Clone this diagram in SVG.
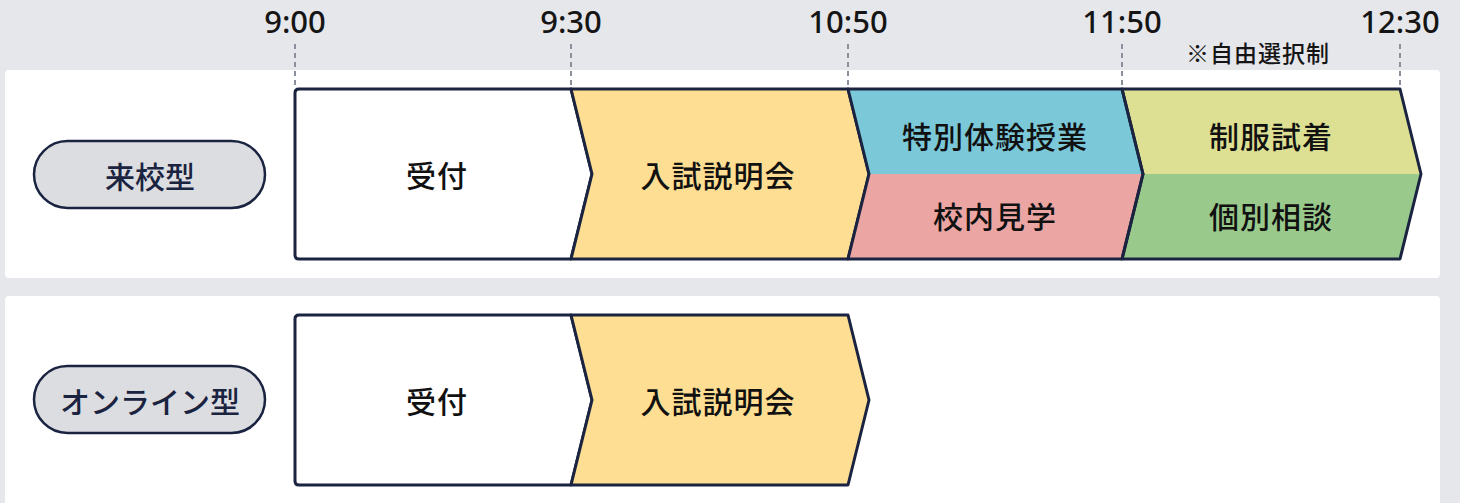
<svg xmlns="http://www.w3.org/2000/svg" width="1460" height="503" viewBox="0 0 1460 503">
<style>
.t{font-family:"Noto Sans","Noto Sans CJK JP",sans-serif;}
.time{font-size:31px;font-weight:500;fill:#151515;text-anchor:middle;}
.lbl{font-family:"Noto Sans CJK JP",sans-serif;font-size:30px;font-weight:500;fill:#111;text-anchor:middle;dominant-baseline:central;letter-spacing:1px;}
.pilltxt{font-family:"Noto Sans CJK JP",sans-serif;font-size:30px;font-weight:500;fill:#1a2340;text-anchor:middle;dominant-baseline:central;}
.pill{fill:#dcdde1;stroke:#1a2340;stroke-width:2.5;}
.blk{stroke:#1a2340;stroke-width:3;stroke-linejoin:round;}
.tick{stroke:#8a8f9c;stroke-width:2;stroke-dasharray:5 4;}
</style>
<rect x="0" y="0" width="1460" height="503" fill="#e6e7eb"/>
<rect x="5" y="70" width="1435" height="208" rx="4" fill="#ffffff"/>
<rect x="5" y="296" width="1435" height="220" rx="4" fill="#ffffff"/>
<g id="timeline">
<text class="t time" x="295" y="33">9:00</text>
<text class="t time" x="571" y="33">9:30</text>
<text class="t time" x="848" y="33">10:50</text>
<text class="t time" x="1122" y="33">11:50</text>
<text class="t time" x="1400" y="33">12:30</text>
<line class="tick" x1="295" y1="44" x2="295" y2="88"/>
<line class="tick" x1="571" y1="44" x2="571" y2="88"/>
<line class="tick" x1="848" y1="44" x2="848" y2="88"/>
<line class="tick" x1="1122" y1="44" x2="1122" y2="88"/>
<line class="tick" x1="1400" y1="44" x2="1400" y2="88"/>
<text x="1258" y="62" style="font-family:'Noto Sans CJK JP',sans-serif;font-size:23px;font-weight:500;fill:#151515;text-anchor:middle;letter-spacing:1px">※自由選択制</text>
</g>
<g id="pill-raiko">
<rect class="pill" x="34" y="141" width="231" height="67" rx="33.5"/>
<text class="pilltxt" x="150" y="175">来校型</text>
</g>
<g id="pill-online">
<rect class="pill" x="34" y="366" width="231" height="67" rx="33.5"/>
<text class="pilltxt" x="150" y="400">オンライン型</text>
</g>
<g id="r1-uketsuke">
<path class="blk" fill="#ffffff" d="M299,89 L571,89 L592,174 L571,259 L299,259 Q295,259 295,255 L295,93 Q295,89 299,89 Z"/>
<text class="lbl" x="437" y="174">受付</text>
</g>
<g id="r1-setsumeikai">
<path class="blk" fill="#fdde92" d="M571,89 L848,89 L869,174 L848,259 L571,259 L592,174 Z"/>
<text class="lbl" x="718" y="174">入試説明会</text>
</g>
<g id="r1-taiken">
<path fill="#7ac8d8" d="M848,89 L1122,89 L1143,174 L869,174 Z"/>
<text class="lbl" x="995" y="135">特別体験授業</text>
</g>
<g id="r1-kengaku">
<path fill="#eba5a3" d="M869,174 L1143,174 L1122,259 L848,259 Z"/>
<text class="lbl" x="995" y="215">校内見学</text>
</g>
<g id="r1-shichaku">
<path fill="#dde093" d="M1122,89 L1400,89 L1421,174 L1143,174 Z"/>
<text class="lbl" x="1271" y="135">制服試着</text>
</g>
<g id="r1-soudan">
<path fill="#9ac98c" d="M1143,174 L1421,174 L1400,259 L1122,259 Z"/>
<text class="lbl" x="1271" y="215">個別相談</text>
</g>
<g id="outlines" fill="none">
<path class="blk" d="M848,89 L1122,89 L1143,174 L1122,259 L848,259 L869,174 Z"/>
<path class="blk" d="M1122,89 L1400,89 L1421,174 L1400,259 L1122,259 L1143,174 Z"/>
</g>
<g id="r2-uketsuke">
<path class="blk" fill="#ffffff" d="M299,315 L571,315 L592,400 L571,485 L299,485 Q295,485 295,481 L295,319 Q295,315 299,315 Z"/>
<text class="lbl" x="437" y="400">受付</text>
</g>
<g id="r2-setsumeikai">
<path class="blk" fill="#fdde92" d="M571,315 L848,315 L869,400 L848,485 L571,485 L592,400 Z"/>
<text class="lbl" x="718" y="400">入試説明会</text>
</g>
</svg>
